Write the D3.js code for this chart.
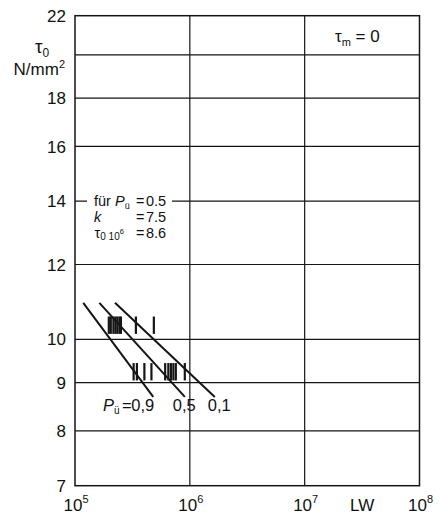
<!DOCTYPE html>
<html><head><meta charset="utf-8">
<script src="https://cdn.jsdelivr.net/npm/d3@7"></script>
<style>
body{margin:0;background:#fff}
svg{display:block}
text{font-family:"Liberation Sans",Arial,sans-serif;fill:#111}
</style>
</head><body><svg id="c" width="439" height="518"></svg>
<script>
// ---- data ----
const xTickValues = [1e5, 1e6, 1e7, 1e8];
const xTickExponents = ["5", "6", "7", "8"];
const yTickValues = [22, 18, 16, 14, 12, 10, 9, 8, 7];
const yGridValues = [20, 18, 16, 14, 12, 10, 9, 8];
const lineNames = ["0,9", "0,5", "0,1"];
const lineStartN = [1.18e5, 1.63e5, 2.23e5];
const lineEndN = [4.80e5, 9.05e5, 1.65e6];
const lineStartTau = [10.93, 10.93, 10.93];
const lineEndTau = [8.69, 8.69, 8.69];
const upperLevelTau = 10.35;
const upperLevelN = [1.97e5, 2.05e5, 2.16e5, 2.25e5, 2.34e5, 2.44e5, 2.51e5, 3.39e5, 4.86e5];
const lowerLevelTau = 9.24;
const lowerLevelN = [3.24e5, 3.46e5, 4.02e5, 4.63e5, 6.10e5, 6.50e5, 6.84e5, 7.19e5, 7.55e5, 9.04e5];

// ---- chart ----
const svg = d3.select("#c");
const x = d3.scaleLog().domain([1e5, 1e8]).range([75, 419.5]);
const y = d3.scaleLog().domain([7, 22]).range([485.7, 15.7]);
const ink = "#151515";

// horizontal grid
svg.append("g").selectAll("line").data(yGridValues).join("line")
  .attr("x1", x(1e5)).attr("x2", x(1e8))
  .attr("y1", d => y(d)).attr("y2", d => y(d))
  .attr("stroke", ink).attr("stroke-width", 1.2);
// vertical grid
svg.append("g").selectAll("line").data([1e6, 1e7]).join("line")
  .attr("x1", d => x(d)).attr("x2", d => x(d))
  .attr("y1", y(22)).attr("y2", y(7))
  .attr("stroke", ink).attr("stroke-width", 1.2);
// border
svg.append("rect").attr("x", x(1e5)).attr("y", y(22))
  .attr("width", x(1e8) - x(1e5)).attr("height", y(7) - y(22))
  .attr("fill", "none").attr("stroke", ink).attr("stroke-width", 1.5);

// y tick labels
svg.append("g").selectAll("text").data(yTickValues).join("text")
  .attr("x", 66).attr("y", d => y(d)).attr("dy", "0.36em")
  .attr("text-anchor", "end").attr("font-size", 17).text(d => d);

// y axis title
const yt = svg.append("text").attr("x", 35).attr("y", 53).attr("font-size", 19);
yt.append("tspan").text("τ");
yt.append("tspan").attr("font-size", 12).attr("dy", 4).text("0");
const yu = svg.append("text").attr("x", 65).attr("y", 75).attr("font-size", 17).attr("text-anchor", "end");
yu.append("tspan").text("N/mm");
yu.append("tspan").attr("font-size", 11).attr("dy", -7).text("2");

// x tick labels
const xl = svg.append("g").selectAll("text").data(xTickValues).join("text")
  .attr("x", d => x(d) + 1).attr("y", 511).attr("text-anchor", "middle").attr("font-size", 17);
xl.append("tspan").text("10");
xl.append("tspan").attr("font-size", 11).attr("dy", -8).text((d, i) => xTickExponents[i]);
svg.append("text").attr("x", x(Math.pow(10, 7.5))).attr("y", 511)
  .attr("text-anchor", "middle").attr("font-size", 17).text("LW");

// tau_m = 0
const tm = svg.append("text").attr("x", 335).attr("y", 41.5).attr("font-size", 17);
tm.append("tspan").text("τ");
tm.append("tspan").attr("font-size", 11).attr("dy", 4).text("m");
tm.append("tspan").attr("dy", -4).text(" = 0");

// info box
svg.append("rect").attr("x", 87).attr("y", y(14) - 8).attr("width", 85).attr("height", 16).attr("fill", "#fff");
const fs = 14.5;
const l1 = svg.append("text").attr("x", 94).attr("y", 206).attr("font-size", fs);
l1.append("tspan").text("für ");
l1.append("tspan").attr("font-style", "italic").text("P");
l1.append("tspan").attr("font-size", 9).attr("dy", 3).text("ü");
l1.append("tspan").attr("x", 136).attr("dy", -3).text("=");
l1.append("tspan").attr("x", 146).text("0.5");
const l2 = svg.append("text").attr("x", 94).attr("y", 222).attr("font-size", fs);
l2.append("tspan").attr("font-style", "italic").text("k");
l2.append("tspan").attr("x", 136).text("=");
l2.append("tspan").attr("x", 146).text("7.5");
const l3 = svg.append("text").attr("x", 94.5).attr("y", 238).attr("font-size", fs);
l3.append("tspan").text("τ");
l3.append("tspan").attr("font-size", 10).attr("dy", 2).text("0 10");
l3.append("tspan").attr("font-size", 7.5).attr("dy", -6).text("6");
l3.append("tspan").attr("x", 136).attr("dy", 4).text("=");
l3.append("tspan").attr("x", 146).text("8.6");

// scatter band lines
svg.append("g").selectAll("line").data(lineNames).join("line")
  .attr("x1", (d, i) => x(lineStartN[i])).attr("y1", (d, i) => y(lineStartTau[i]))
  .attr("x2", (d, i) => x(lineEndN[i])).attr("y2", (d, i) => y(lineEndTau[i]))
  .attr("stroke", ink).attr("stroke-width", 2);

// failure marks
const markHalf = 8.7;
function marks(ns, tau) {
  svg.append("g").selectAll("line").data(ns).join("line")
    .attr("x1", d => x(d)).attr("x2", d => x(d))
    .attr("y1", y(tau) - markHalf).attr("y2", y(tau) + markHalf)
    .attr("stroke", ink).attr("stroke-width", 2.2);
}
marks(upperLevelN, upperLevelTau);
marks(lowerLevelN, lowerLevelTau);

// line labels
const labelOffsets = [-22, -12, -7];
const ly = y(lineEndTau[0]) + 14.5;
const pl = svg.append("text").attr("x", 103).attr("y", ly).attr("font-size", 16.5);
pl.append("tspan").attr("font-style", "italic").text("P");
pl.append("tspan").attr("font-size", 10).attr("dy", 3).text("ü");
pl.append("tspan").attr("x", 122).attr("dy", -3).text("=");
lineNames.forEach((name, i) => {
  pl.append("tspan").attr("x", x(lineEndN[i]) + labelOffsets[i]).text(name);
});
</script>
</body></html>
